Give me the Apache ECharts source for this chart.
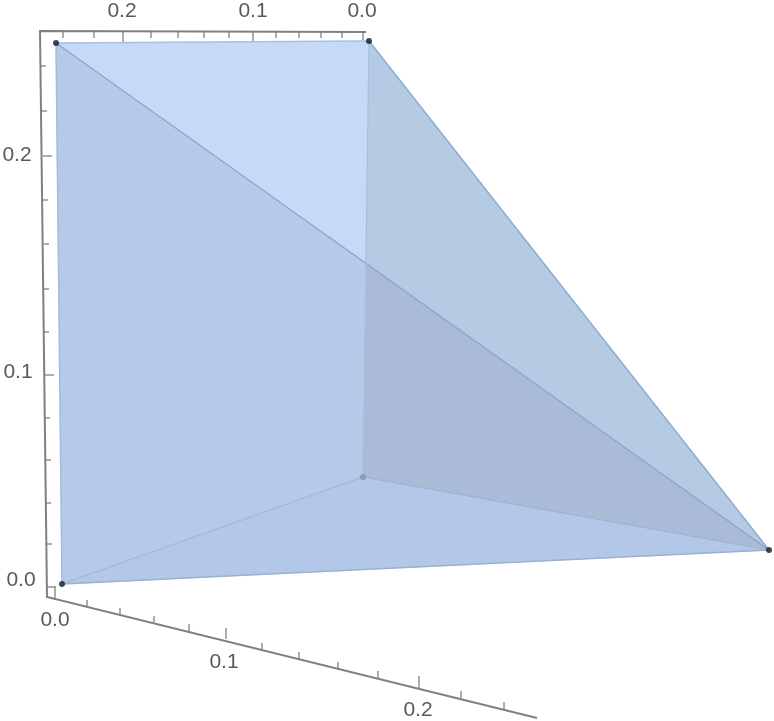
<!DOCTYPE html>
<html>
<head>
<meta charset="utf-8">
<style>html,body{margin:0;padding:0;background:#fff}#c{width:774px;height:721px}</style>
<script src="https://cdn.jsdelivr.net/npm/echarts@6/dist/echarts.min.js"></script>
</head>
<body>
<div id="c"></div>
<script>
// Vertices (projected positions)
const A = [56, 43];
const B = [369, 41];
const C = [769, 550];
const D = [62, 584];
const E = [363, 477];
const X = [366, 263];   // where edge A-C crosses edge B-E in the projection

const faces = [
  { pts: [A, B, X], color: '#c4daf6' },
  { pts: [A, X, E, D], color: '#b5c9e9' },
  { pts: [B, C, X], color: '#b5cbe4' },
  { pts: [X, C, E], color: '#a9bbd6' },
  { pts: [D, E, C], color: '#b3c8e8' }
];
const edges = [
  { pts: [A, B], color: '#a7c0e4', w: 1.5 },
  { pts: [A, D], color: '#a3bbe0', w: 1.5 },
  { pts: [B, C], color: '#8dabd4', w: 1.5 },
  { pts: [D, C], color: '#96b1d9', w: 1.5 },
  { pts: [A, C], color: '#8ea3c9', w: 1.2 },
  { pts: [B, E], color: '#a6bfdf', w: 1.2 },
  { pts: [E, D], color: '#9fb6d8', w: 1.2 },
  { pts: [E, C], color: '#9bafcc', w: 1.2 }
];
const solidPoints = [A, B, C, D];
const backPoint = [E];

// Frame axes
const axisLines = [
  [[366, 32], [40, 31], [47, 597], [537, 718]]
];
// Ticks: [base, end]
const topMajor = [[123, 42], [253, 42], [363, 40]];
const topMinor = [63, 94, 151, 178, 204, 229, 276, 299, 321, 342];
const leftMajor = [[156, 43], [375, 45], [587, 47]];
const leftMinor = [[66, 41], [111, 42], [200, 43], [244, 44], [289, 44], [332, 44], [418, 45], [460, 46], [503, 46], [544, 47]];
const bottomMajor = [[55, 599, 587], [226, 639, 628], [419, 688, 676]];
const bottomMinor = [[87, 607, 600], [120, 614, 608], [154, 622, 616], [189, 631, 624], [262, 650, 643], [299, 659, 652], [338, 669, 662], [378, 679, 671], [461, 698, 691], [504, 709, 702]];

const tickSegs = [
  ...topMajor.map(t => [[t[0], 31], [t[0], t[1]]]),
  ...topMinor.map(x => [[x, 31], [x, 38]]),
  ...leftMajor.map(t => [[t[1], t[0]], [t[1] + 9, t[0]]]),
  ...leftMinor.map(t => [[t[1], t[0]], [t[1] + 5, t[0]]]),
  ...bottomMajor.map(t => [[t[0], t[1]], [t[0], t[2]]]),
  ...bottomMinor.map(t => [[t[0], t[1]], [t[0], t[2]]])
];

const tickLabels = [
  [122, 11, '0.2'], [253, 11, '0.1'], [362, 11, '0.0'],
  [17, 155, '0.2'], [18, 372, '0.1'], [21, 580, '0.0'],
  [55, 620, '0.0'], [224, 662, '0.1'], [418, 710, '0.2']
];

function polyItem(params, api) {
  const f = faces[params.dataIndex];
  return { type: 'polygon', shape: { points: f.pts.map(p => api.coord(p)) },
           style: { fill: f.color, stroke: f.color, lineWidth: 0.5 } };
}
function lineItem(list, fixedColor, fixedW) {
  return function (params, api) {
    const it = list[params.dataIndex];
    const pts = it.pts || it;
    return { type: 'polyline', shape: { points: pts.map(p => api.coord(p)) },
             style: { fill: 'none', stroke: it.color || fixedColor, lineWidth: it.w || fixedW, lineJoin: 'miter' } };
  };
}
const idx = a => a.map((_, i) => [i]);

const chart = echarts.init(document.getElementById('c'));
chart.setOption({
  animation: false,
  backgroundColor: '#ffffff',
  grid: { left: 0, right: 0, top: 0, bottom: 0 },
  xAxis: { type: 'value', min: 0, max: 774, show: false },
  yAxis: { type: 'value', min: 0, max: 721, inverse: true, show: false },
  series: [
    { type: 'custom', coordinateSystem: 'cartesian2d', data: idx(axisLines), clip: false, silent: true,
      encode: { x: [], y: [] }, renderItem: lineItem(axisLines, '#808080', 2), z: 1 },
    { type: 'custom', coordinateSystem: 'cartesian2d', data: idx(tickSegs), clip: false, silent: true,
      encode: { x: [], y: [] }, renderItem: lineItem(tickSegs, '#808080', 1.3), z: 1 },
    { type: 'custom', coordinateSystem: 'cartesian2d', data: idx(faces), clip: false, silent: true,
      encode: { x: [], y: [] }, renderItem: polyItem, z: 2 },
    { type: 'custom', coordinateSystem: 'cartesian2d', data: idx(edges), clip: false, silent: true,
      encode: { x: [], y: [] }, renderItem: lineItem(edges), z: 3 },
    { type: 'scatter', data: backPoint, symbolSize: 6, silent: true, z: 4,
      itemStyle: { color: '#8496b4', borderColor: '#8fa2c0', borderWidth: 0.5 } },
    { type: 'scatter', data: solidPoints, symbolSize: 6, silent: true, z: 5,
      itemStyle: { color: '#111a26' } },
    { type: 'scatter', data: tickLabels, symbolSize: 0, silent: true, z: 6,
      label: { show: true, position: 'inside', formatter: p => p.value[2],
               fontFamily: 'Liberation Sans', fontSize: 21, color: '#2f2f2f' } }
  ]
});
</script>
</body>
</html>
